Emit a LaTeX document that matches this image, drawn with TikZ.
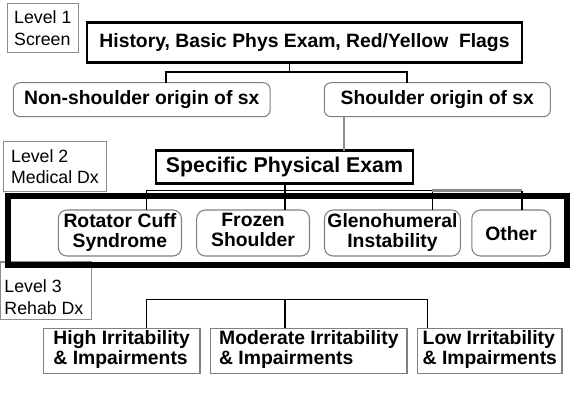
\documentclass[tikz,border=0pt]{standalone}
\usepackage{fontspec}
\setmainfont{Liberation Sans}
\begin{document}
\begin{tikzpicture}[x=0.75pt,y=-0.75pt,
  every node/.style={inner sep=0pt, outer sep=0pt},
  sz/.style 2 args={minimum width=#1*0.75pt, minimum height=#2*0.75pt},
  conn/.style={line width=0.8pt, black},
  softconn/.style={line width=1.4pt, black!45},
  levelbox/.style={draw=black!45, line width=0.8pt, align=left,
    font=\fontsize{13.3}{16.3}\selectfont},
  leveltext/.style={align=left, font=\fontsize{13.3}{16.3}\selectfont},
  titlebox/.style={draw=black, line width=2pt,
    font=\fontsize{14.5}{15}\selectfont\bfseries},
  exambox/.style={draw=black, line width=1.8pt,
    font=\fontsize{16}{17}\selectfont\bfseries},
  roundbox/.style={draw=black!50, line width=0.8pt, rounded corners=5pt,
    align=center, font=\fontsize{14.5}{15}\selectfont\bfseries},
  dxbox/.style={roundbox, rounded corners=6.5pt,
    execute at begin node=\rule{0pt}{15pt}, execute at end node=\strut},
  rehabbox/.style={draw=black!50, line width=1pt, align=left,
    font=\fontsize{14.5}{15.2}\selectfont\bfseries,
    execute at begin node=\rule{0pt}{15pt}, execute at end node=\strut},
  groupframe/.style={draw=black, line width=4.1pt}
]
\useasboundingbox (0,0) rectangle (574,399);

% level 1: screening
\node[levelbox, sz={71}{49.4}] (lv1) at (42.8,28) {Level 1\\Screen};
\node[titlebox, sz={435}{40}] (hist) at (304.5,42.7)
  {History, Basic Phys Exam, Red/Yellow~~Flags};
\node[roundbox, sz={256.7}{34}] (non) at (141.7,99.7) {Non-shoulder origin of sx};
\node[roundbox, sz={226}{34}] (sho) at (437.3,99.7) {Shoulder origin of sx};

\coordinate (j1)  at (289.7,72);
\coordinate (j1l) at (166,72);
\coordinate (j1r) at (407,72);
\draw[conn] (j1 |- hist.south) -- (j1);
\draw[conn] (j1l |- non.north) -- (j1l) -- (j1r) -- (j1r |- sho.north);

% level 2: medical diagnosis
\node[levelbox, sz={103.4}{50}] (lv2) at (55,166.7) {Level 2\\Medical Dx};
\node[exambox, sz={257}{32.6}] (spec) at (284.5,167) {Specific Physical Exam};
\coordinate (j2) at (343.7,0);
\draw[softconn] (j2 |- sho.south) -- (j2 |- spec.north);

% level 3 label box sits under the group frame
\node[draw=black!45, line width=0.8pt, sz={91.7}{57.3}] (lv3) at (45.85,290.65) {};
\node[leveltext, anchor=west] (lv3t) at (4.5,297.5) {Level 3\\Rehab Dx};

% frame around the medical diagnoses
\node[groupframe, sz={559}{69}] (frame) at (287.5,230.5) {};

\node[dxbox, sz={123.2}{46}] (rot) at (119.9,233) {Rotator Cuff\\Syndrome};
\node[dxbox, sz={112.8}{46}] (frz) at (253.1,233) {Frozen\\Shoulder};
\node[dxbox, sz={135.9}{46}] (gle) at (392.45,233) {Glenohumeral\\Instability};
\node[dxbox, sz={78.7}{46}] (oth) at (511.15,233) {Other};

\coordinate (k1) at (146.7,190.5);
\coordinate (k2) at (285,190.5);
\coordinate (k3) at (432.2,190.5);
\coordinate (k4) at (522,190.5);
\draw[conn] (k2 |- spec.south) -- (k2 |- frz.north);
\draw[conn] (k1 |- rot.north) -- (k1) -- (k3) -- (k3 |- gle.north);
\draw[softconn, line width=1.6pt] (k3) -- (k4);
\draw[conn] (k4) -- (k4 |- oth.north);

% rehabilitation diagnosis
\node[rehabbox, sz={156.7}{45}] (high) at (121.65,350.8) {High Irritability\\\& Impairments};
\node[rehabbox, sz={196.3}{45}] (mod) at (308.85,350.8) {Moderate Irritability\\\& Impairments};
\node[rehabbox, sz={144.3}{45}] (low) at (489.85,350.8) {Low Irritability\\\& Impairments};

\coordinate (m1) at (146.7,299.3);
\coordinate (m2) at (285,299.3);
\coordinate (m3) at (427.7,299.3);
\draw[conn] (m1 |- high.north) -- (m1) -- (m3) -- (m3 |- low.north);
\draw[conn] (m2) -- (m2 |- mod.north);
\end{tikzpicture}
\end{document}
